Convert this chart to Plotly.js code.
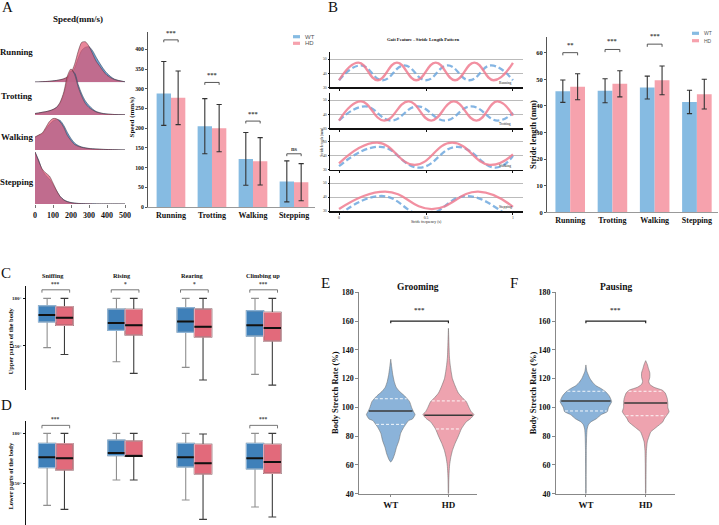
<!DOCTYPE html>
<html>
<head>
<meta charset="utf-8">
<script src="https://cdn.plot.ly/plotly-3.0.1.min.js"></script>
<style>html,body{margin:0;padding:0;background:#fff}#fig{width:719px;height:525px}</style>
</head>
<body>
<div id="fig"></div>
<script>
// ---------------- data ----------------
const gaits = ['Running', 'Trotting', 'Walking', 'Stepping'];
const postures = ['Sniffing', 'Rising', 'Rearing', 'Climbing up'];
const groups = ['WT', 'HD'];

// A: speed distributions (relative density) sampled along speed, mm/s
const speedGrid = [0,20,40,60,80,100,120,140,160,180,200,220,240,260,280,300,320,340,360,380,400,440,500];
const densRunningWT  = [0.3,0.4,0.6,0.8,1.0,1.4,1.8,2.4,3.2,4.8,8,14,24,32,35,35.5,31.5,25,19,13.5,9,3.3,0.5];
const densRunningHD  = [0.3,0.4,0.6,0.8,1.0,1.4,1.9,2.6,3.6,5.5,9.5,18,31,40,40.5,36,28.5,21,16,11,7,2.8,0.4];
const densTrottingWT = [1.5,2,2.7,3.3,4.2,5.5,7.7,12,21,35,44,42,30.5,21,14,9.5,6,3.5,2.3,1.5,1,0.5,0.2];
const densTrottingHD = [1.5,2,2.7,3.3,4.2,5.5,7.7,13,23,39,46,40.5,28,18.5,11.5,7.5,5,3,2,1.3,0.9,0.5,0.2];
const densWalkingWT  = [12.5,14.5,16,21,25.5,29,30.5,29.5,24.5,17.5,11.5,7,4.5,3,2.2,1.6,1.2,1,0.8,0.6,0.5,0.3,0.1];
const densWalkingHD  = [13,15,17,22.5,28.5,31.5,31.2,28,22.5,14.5,9.5,5.5,3.7,2.6,1.9,1.4,1.1,0.9,0.7,0.6,0.5,0.3,0.1];
const densSteppingWT = [52,44,34,28.5,25,19.5,13,7.5,4.2,2.5,1.5,0.9,0.6,0.4,0.3,0.2,0.15,0.1,0.1,0.1,0.1,0.1,0.05];
const densSteppingHD = [52,43,35,31,28,21,13.5,7.5,4,2.2,1.3,0.8,0.5,0.3,0.2,0.15,0.1,0.1,0.1,0.1,0.1,0.1,0.05];

// A: mean speed ± SD
const speedMeanWT = [288, 205, 122, 65];
const speedSdWT   = [81, 70, 67, 52];
const speedMeanHD = [277, 200, 116, 63];
const speedSdHD   = [68, 60, 60, 47];
const speedSig    = ['***', '***', '***', 'ns'];
const speedSigLevel = [424, 316, 218, 135];

// B: stride length pattern (turning points of each cycle), mm
const runHDx  = [0,0.111,0.222,0.333,0.444,0.556,0.667,0.778,0.889,1.0];
const runHDy  = [35,47.5,35,47.5,35,47.5,35,47.5,35,47.3];
const runWTx  = [0,0.125,0.25,0.375,0.5,0.625,0.75,0.875,1.0];
const runWTy  = [35,45.5,35,45.5,35,45.5,35,45.5,35];
const trotHDx = [0,0.125,0.26,0.40,0.53,0.66,0.79,0.91,1.0];
const trotHDy = [35.5,49,35.5,49,35.5,49,35.5,49,39];
const trotWTx = [0,0.15,0.30,0.45,0.61,0.76,0.91,1.0];
const trotWTy = [35.5,45.5,35.5,45.5,35.5,45.5,35.5,41];
const walkHDx = [0,0.22,0.435,0.65,0.865,1.0];
const walkHDy = [34.5,49.5,33.5,49.5,33.5,41];
const walkWTx = [0,0.236,0.46,0.68,0.9,1.0];
const walkWTy = [32.5,46.5,31.5,46.5,31.5,40];
const stepHDx = [0,0.265,0.533,0.80,1.0];
const stepHDy = [31.4,43.9,31.4,43.9,33];
const stepWTx = [0,0.245,0.49,0.734,0.98,1.0];
const stepWTy = [27,40.7,27,40.7,27,27.1];

// B: stride length mean ± SD, mm
const strideMeanWT = [45.5, 45.7, 46.9, 41.5];
const strideSdWT   = [4.2, 4.5, 4.3, 4.4];
const strideMeanHD = [47.2, 48.3, 49.6, 44.4];
const strideSdHD   = [4.9, 4.9, 5.4, 5.6];
const strideSig    = ['**', '***', '***', ''];
const strideSigLevel = [60, 61.2, 63.2, 0];

// C: upper body angle (deg) five-number summaries per posture
const upperWTlo  = [148.8, 139.9, 136.3, 131.9];
const upperWTq1  = [165.0, 159.7, 158.5, 156.1];
const upperWTmed = [169.4, 164.4, 165.4, 162.9];
const upperWTq3  = [175.3, 173.2, 174.1, 172.2];
const upperWThi  = [180, 180, 180, 180];
const upperHDlo  = [144.5, 132.5, 128.3, 125.1];
const upperHDq1  = [162.9, 156.8, 155.5, 153.0];
const upperHDmed = [167.7, 162.9, 162.0, 161.2];
const upperHDq3  = [174.7, 173.0, 173.2, 171.1];
const upperHDhi  = [180, 180, 180, 180];
const upperSig   = ['***', '*', '*', '***'];

// D: lower body angle (deg)
const lowerWTlo  = [136.8, 152.0, 140.0, 135.8];
const lowerWTq1  = [159.4, 166.6, 159.8, 158.6];
const lowerWTmed = [165.6, 168.2, 165.6, 165.0];
const lowerWTq3  = [174.0, 176.0, 174.0, 174.0];
const lowerWThi  = [180, 180, 180, 180];
const lowerHDlo  = [134.4, 152.0, 128.4, 129.8];
const lowerHDq1  = [158.0, 166.2, 155.6, 156.0];
const lowerHDmed = [165.0, 166.4, 162.0, 162.8];
const lowerHDq3  = [173.8, 175.4, 173.4, 173.4];
const lowerHDhi  = [180, 180, 179.6, 180];
const lowerSig   = ['***', '', '', '***'];

// E/F: body stretch rate (%) distribution outlines (half-width, relative)
const groomWTy = [62,64,67.6,72,77,82,86,90.8,92,95,97,100,104,108,111,114,118,123,128,133.5];
const groomWTw = [0,2,4,5.7,8.3,10,13,18,22,24.5,23,21,19,14,9,5.5,3.5,2,1,0];
const groomHDy = [40,50,55,60,65,70,75,80,85,90,92,95,97,100,104,106,110,115,120,125,130,135,145,155];
const groomHDw = [0.2,0.4,0.7,1.2,2.3,4,6.7,10,13,18,22,25.7,23,20.7,18,15,10,6.7,4,2.7,1.7,1,0.5,0];
const pauseWTy = [40,50,60,70,80,85,88,90,92,95,97,100,104,108,111,113,115,117,120,125,129.5];
const pauseWTw = [0.2,0.25,0.3,0.4,0.7,1.2,2.5,5,10,15,20.7,22,25,22.7,19,15,10,7,4,1,0];
const pauseHDy = [40,50,60,70,76,80,83,86,90,92,95,97,100,103,106,110,112,114,116,118,121,124,127,130,132.5];
const pauseHDw = [0.2,0.3,0.4,0.7,1.5,3.3,5,10,16.7,18,21,22.7,21.5,21.5,21,19,16,8,4,3,4,4,2.7,1.5,0];
const groomMedian = [97.5, 94.5];
const groomQ1 = [88.2, 85];
const groomQ3 = [106, 104.5];
const pauseMedian = [104.4, 103];
const pauseQ1 = [97.5, 94.2];
const pauseQ3 = [111.2, 111.2];

// ---------------- layout helpers ----------------
const W = 719, H = 525;
const SERIF = '"Liberation Serif", "Times New Roman", serif';
const SANS = '"Liberation Sans", Arial, sans-serif';
const xd = (l, r) => [l / W, r / W];
const yd = (t, b) => [1 - b / H, 1 - t / H];
const bold = (size, color) => ({family: SERIF, size: size, color: color || '#111', weight: 'bold'});
const axis = o => Object.assign({showgrid: false, zeroline: false, showline: false, ticks: '',
  showticklabels: false, fixedrange: true}, o);

const BAR_WT = '#86bbe2', BAR_HD = '#f6a2ad';
const BOX_WT = '#3f80b9', BOX_HD = '#e26a7b';
const BOX_WT_EDGE = '#8dbbe3', BOX_HD_EDGE = '#f2a9b3';
const VIO_WT = '#8bb3d9', VIO_HD = '#eea3af';

const traces = [];
const shapes = [];
const annotations = [];

function text(x, y, s, font, extra) {
  annotations.push(Object.assign({xref: 'paper', yref: 'paper', x: x / W, y: 1 - y / H, text: s,
    showarrow: false, xanchor: 'center', yanchor: 'middle', font: font}, extra || {}));
}
function bracket(xref, yref, x0, x1, level, drop, color, width) {
  shapes.push({type: 'path', xref: xref, yref: yref,
    path: `M${x0},${level - drop} L${x0},${level} L${x1},${level} L${x1},${level - drop}`,
    line: {color: color, width: width}});
}

const layout = {
  width: W, height: H, margin: {l: 0, r: 0, t: 0, b: 0},
  paper_bgcolor: '#fff', plot_bgcolor: 'rgba(0,0,0,0)', showlegend: false,
  barmode: 'group', bargap: 0.3, bargroupgap: 0, boxmode: 'overlay',
  font: {family: SERIF, color: '#111'}
};

// ---------------- A: speed ridges ----------------
const ridgeBase = [82.3, 115, 150, 204];
const ridgeWT = [densRunningWT, densTrottingWT, densWalkingWT, densSteppingWT];
const ridgeHD = [densRunningHD, densTrottingHD, densWalkingHD, densSteppingHD];
layout.xaxis = axis({domain: xd(35, 125), range: [0, 500], anchor: 'y4',
  tickvals: [0, 100, 200, 300, 400, 500], showticklabels: true, ticks: 'outside', ticklen: 3,
  tickcolor: '#777', tickfont: bold(8)});
ridgeBase.forEach((b, k) => {
  const name = k === 0 ? 'yaxis' : 'yaxis' + (k + 1);
  const ref = k === 0 ? 'y' : 'y' + (k + 1);
  layout[name] = axis({domain: yd(b - 55, b), range: [0, 55], anchor: 'x'});
  traces.push({type: 'scatter', x: speedGrid, y: ridgeWT[k], xaxis: 'x', yaxis: ref, mode: 'lines',
    line: {color: 'rgba(50,60,80,0.8)', width: 0.7, shape: 'spline', smoothing: 0.8},
    fill: 'tozeroy', fillcolor: 'rgba(90,150,205,0.88)', hoverinfo: 'skip'});
  traces.push({type: 'scatter', x: speedGrid, y: ridgeHD[k], xaxis: 'x', yaxis: ref, mode: 'lines',
    line: {color: 'rgba(70,40,50,0.7)', width: 0.7, shape: 'spline', smoothing: 0.8},
    fill: 'tozeroy', fillcolor: 'rgba(225,88,115,0.72)', hoverinfo: 'skip'});
});
text(78, 19, 'Speed(mm/s)', bold(9));
[51.7, 95.7, 136.7, 181.7].forEach((y, k) => text(16.5, y, gaits[k], bold(8.8)));

// ---------------- A: speed bars ----------------
const gIdx = gaits.map((_, i) => i);
layout.xaxis2 = axis({domain: xd(148, 314.5), range: [-0.56, 3.5], anchor: 'y5',
  tickvals: gIdx, ticktext: gaits, showticklabels: true, tickfont: bold(8),
  showline: true, linecolor: '#999', linewidth: 1});
layout.yaxis5 = axis({domain: yd(32, 207), range: [0, 444], anchor: 'x2',
  tickvals: [0, 50, 100, 150, 200, 250, 300, 350, 400], showticklabels: true, tickfont: bold(5.8),
  ticks: 'outside', ticklen: 2, tickcolor: '#555', showline: true, linecolor: '#555', linewidth: 1});
const errStyle = {type: 'data', visible: true, color: '#333', thickness: 1.1, width: 2.6};
traces.push({type: 'bar', x: gIdx, y: speedMeanWT, name: 'WT', xaxis: 'x2', yaxis: 'y5',
  marker: {color: BAR_WT}, error_y: Object.assign({array: speedSdWT}, errStyle), hoverinfo: 'skip'});
traces.push({type: 'bar', x: gIdx, y: speedMeanHD, name: 'HD', xaxis: 'x2', yaxis: 'y5',
  marker: {color: BAR_HD}, error_y: Object.assign({array: speedSdHD}, errStyle), hoverinfo: 'skip'});
speedSig.forEach((s, i) => {
  bracket('x2', 'y5', i - 0.175, i + 0.175, speedSigLevel[i], 6, '#444', 0.9);
  annotations.push({xref: 'x2', yref: 'y5', x: i, y: speedSigLevel[i], text: s, showarrow: false,
    yanchor: 'bottom', yshift: s === 'ns' ? 0 : 2, font: {family: SERIF, size: 6.5, color: '#444', weight: 'bold'}});
});
text(131.5, 117, 'Speed (mm/s)', bold(7), {textangle: -90});

// ---------------- B: stride length pattern ----------------
const rowBox = [[52, 87.3], [93, 128.3], [135, 169.7], [176, 211]];
const cycles = [[runWTx, runWTy, runHDx, runHDy], [trotWTx, trotWTy, trotHDx, trotHDy],
                [walkWTx, walkWTy, walkHDx, walkHDy], [stepWTx, stepWTy, stepHDx, stepHDy]];
rowBox.forEach((r, k) => {
  const xn = 3 + k, yn = 6 + k;
  layout['xaxis' + xn] = axis({domain: xd(330, 522.7), range: [-0.052, 1.056], anchor: 'y' + yn,
    tickvals: [0, 0.5, 1], ticktext: ['0', '0.5', '1'], showticklabels: k === 3,
    tickfont: {family: SERIF, size: 3.8, color: '#333'}, ticks: 'outside', ticklen: 2, tickcolor: '#111',
    showline: true, linecolor: '#111', linewidth: 1.5});
  layout['yaxis' + yn] = axis({domain: yd(r[0], r[1]), range: [30, 55], anchor: 'x' + xn,
    tickvals: [30, 40, 50], showticklabels: true, tickfont: {family: SERIF, size: 3.8, color: '#333'},
    ticks: 'outside', ticklen: 1.5, tickcolor: '#111', showline: true, linecolor: '#111', linewidth: 1,
    showgrid: true, gridcolor: '#b4b4b4', gridwidth: 0.9});
  const c = cycles[k];
  traces.push({type: 'scatter', mode: 'lines', x: c[0], y: c[1], xaxis: 'x' + xn, yaxis: 'y' + yn,
    line: {color: 'rgba(110,168,222,0.85)', width: 2.3, dash: '6px,3px', shape: 'spline', smoothing: 1.3},
    hoverinfo: 'skip'});
  traces.push({type: 'scatter', mode: 'lines', x: c[2], y: c[3], xaxis: 'x' + xn, yaxis: 'y' + yn,
    line: {color: 'rgba(240,125,145,0.85)', width: 2.3, shape: 'spline', smoothing: 1.3},
    hoverinfo: 'skip'});
  text(505, r[1] - 4, gaits[k], {family: SERIF, size: 3.6, color: '#222'});
});
text(423, 40, 'Gait Feature - Stride Length Pattern', bold(4.6));
text(426.7, 221.7, 'Stride frequency (s)', {family: SERIF, size: 3.8, color: '#222'});
text(321.7, 142, 'Stride length (mm)', {family: SERIF, size: 3.8, color: '#222'}, {textangle: -90});

// ---------------- B: stride length bars ----------------
layout.xaxis7 = axis({domain: xd(547, 718), range: [-0.55, 3.5], anchor: 'y10',
  tickvals: gIdx, ticktext: gaits, showticklabels: true, tickfont: bold(8),
  showline: true, linecolor: '#999', linewidth: 1});
layout.yaxis10 = axis({domain: yd(36.7, 212.3), range: [0, 66], anchor: 'x7',
  tickvals: [0, 10, 20, 30, 40, 50, 60], showticklabels: true, tickfont: bold(6.5),
  ticks: 'outside', ticklen: 2, tickcolor: '#555', showline: true, linecolor: '#555', linewidth: 1});
traces.push({type: 'bar', x: gIdx, y: strideMeanWT, name: 'WT', xaxis: 'x7', yaxis: 'y10',
  marker: {color: BAR_WT}, error_y: Object.assign({array: strideSdWT}, errStyle), hoverinfo: 'skip'});
traces.push({type: 'bar', x: gIdx, y: strideMeanHD, name: 'HD', xaxis: 'x7', yaxis: 'y10',
  marker: {color: BAR_HD}, error_y: Object.assign({array: strideSdHD}, errStyle), hoverinfo: 'skip'});
strideSig.forEach((s, i) => {
  if (!s) return;
  bracket('x7', 'y10', i - 0.175, i + 0.175, strideSigLevel[i], 1, '#444', 0.9);
  annotations.push({xref: 'x7', yref: 'y10', x: i, y: strideSigLevel[i], text: s, showarrow: false,
    yanchor: 'bottom', yshift: 3, font: {family: SERIF, size: 6.5, color: '#444', weight: 'bold'}});
});
text(533, 135, 'Stride length (mm)', bold(8.5), {textangle: -90});

// legends for the two bar panels
function legend(x, y1, y2, size) {
  shapes.push({type: 'rect', xref: 'paper', yref: 'paper', x0: x / W, x1: (x + 7) / W,
    y0: 1 - (y1 + 1.6) / H, y1: 1 - (y1 - 1.6) / H, fillcolor: BAR_WT, line: {width: 0}});
  shapes.push({type: 'rect', xref: 'paper', yref: 'paper', x0: x / W, x1: (x + 7) / W,
    y0: 1 - (y2 + 1.6) / H, y1: 1 - (y2 - 1.6) / H, fillcolor: BAR_HD, line: {width: 0}});
  text(x + 10, y1, groups[0], {family: SANS, size: size, color: '#555'}, {xanchor: 'left'});
  text(x + 10, y2, groups[1], {family: SANS, size: size, color: '#555'}, {xanchor: 'left'});
}
legend(293, 36.7, 43.3, 6);
legend(692, 33.3, 40.7, 5);

// ---------------- C / D: body angle boxes ----------------
const pIdx = postures.map((_, i) => i);
function boxPanel(xn, yn, dom, rng, wt, hd, sig, sigLevel) {
  layout['xaxis' + xn] = axis({domain: xd(26, 290), range: [-0.43, 3.38], anchor: 'y' + yn});
  layout['yaxis' + yn] = axis({domain: dom, range: rng, anchor: 'x' + xn,
    tickvals: [150, 180], ticktext: ['150°', '180°'], showticklabels: true,
    tickfont: {family: SERIF, size: 5, color: '#222', weight: 'bold'},
    ticks: 'outside', ticklen: 2, tickcolor: '#111', showline: true, linecolor: '#111', linewidth: 1.5});
  [[wt, -0.125, BOX_WT, '#8f8f8f', BOX_WT_EDGE], [hd, 0.125, BOX_HD, '#3c3c3c', BOX_HD_EDGE]]
    .forEach(([s, off, fill, lc, edge]) => {
      const xs = pIdx.map(i => i + off);
      traces.push({type: 'box', x: xs, lowerfence: s[0], q1: s[1], median: s[2], q3: s[3], upperfence: s[4],
        width: 0.25, whiskerwidth: 0.45, fillcolor: fill, line: {color: lc, width: 1.1},
        xaxis: 'x' + xn, yaxis: 'y' + yn, boxpoints: false, hoverinfo: 'skip'});
      // light box edge, then the median bar on top
      const ex = [], ey = [], mx = [], my = [];
      xs.forEach((x, i) => {
        ex.push(x - 0.125, x + 0.125, x + 0.125, x - 0.125, x - 0.125, null);
        ey.push(s[1][i], s[1][i], s[3][i], s[3][i], s[1][i], null);
        mx.push(x - 0.125, x + 0.125, null); my.push(s[2][i], s[2][i], null);
      });
      traces.push({type: 'scatter', mode: 'lines', x: ex, y: ey, xaxis: 'x' + xn, yaxis: 'y' + yn,
        line: {color: edge, width: 1}, hoverinfo: 'skip'});
      traces.push({type: 'scatter', mode: 'lines', x: mx, y: my, xaxis: 'x' + xn, yaxis: 'y' + yn,
        line: {color: '#111', width: 2}, hoverinfo: 'skip'});
    });
  sig.forEach((s, i) => {
    if (!s) return;
    bracket('x' + xn, 'y' + yn, i - 0.2, i + 0.2, sigLevel, 1.8, '#555', 0.8);
    annotations.push({xref: 'x' + xn, yref: 'y' + yn, x: i, y: sigLevel, text: s, showarrow: false,
      yanchor: 'bottom', yshift: 1, font: {family: SERIF, size: 5.5, color: '#444', weight: 'bold'}});
  });
}
boxPanel(8, 11, yd(285.7, 390), [122, 188],
  [upperWTlo, upperWTq1, upperWTmed, upperWTq3, upperWThi],
  [upperHDlo, upperHDq1, upperHDmed, upperHDq3, upperHDhi], upperSig, 185.4);
boxPanel(9, 12, yd(420.7, 525), [125, 187.6],
  [lowerWTlo, lowerWTq1, lowerWTmed, lowerWTq3, lowerWThi],
  [lowerHDlo, lowerHDq1, lowerHDmed, lowerHDq3, lowerHDhi], lowerSig, 184.8);
[53.3, 121.7, 192.7, 263.3].forEach((x, i) => text(x, 275, postures[i], bold(6.3)));
text(9.5, 341, 'Upper parts of the body', bold(6.5), {textangle: -90});
text(9.5, 476, 'Lower parts of the body', bold(6.5), {textangle: -90});

// ---------------- E / F: body stretch violins ----------------
const VW = 0.0172;
function widthAt(ys, ws, v) {
  for (let i = 0; i < ys.length - 1; i++) {
    if (v >= ys[i] && v <= ys[i + 1]) {
      const t = (v - ys[i]) / (ys[i + 1] - ys[i]);
      return ws[i] + t * (ws[i + 1] - ws[i]);
    }
  }
  return 0;
}
function violinPanel(xn, yn, xdom, xr, prof, med, q1, q3, title, titleX) {
  layout['xaxis' + xn] = axis({domain: xdom, range: xr, anchor: 'y' + yn,
    tickvals: [0, 1], ticktext: groups, showticklabels: true, tickfont: bold(9),
    ticks: 'outside', ticklen: 2, tickcolor: '#888', showline: true, linecolor: '#888', linewidth: 1});
  layout['yaxis' + yn] = axis({domain: yd(292.3, 493.7), range: [40, 180], anchor: 'x' + xn,
    dtick: 20, showticklabels: true, tickfont: bold(8), ticks: 'outside', ticklen: 3,
    tickcolor: '#888', showline: true, linecolor: '#888', linewidth: 1});
  [[prof[0], prof[1], VIO_WT], [prof[2], prof[3], VIO_HD]].forEach(([ys, ws, col], g) => {
    const px = [], py = [];
    ys.forEach((y, i) => { px.push(g + ws[i] * VW); py.push(y); });
    for (let i = ys.length - 1; i >= 0; i--) { px.push(g - ws[i] * VW); py.push(ys[i]); }
    traces.push({type: 'scatter', mode: 'lines', x: px, y: py, fill: 'toself', fillcolor: col,
      line: {color: 'rgba(110,110,110,0.8)', width: 0.7, shape: 'spline', smoothing: 0.5},
      xaxis: 'x' + xn, yaxis: 'y' + yn, hoverinfo: 'skip'});
    const seg = (v, style) => {
      const hw = widthAt(ys, ws, v) * VW * 0.97;
      traces.push({type: 'scatter', mode: 'lines', x: [g - hw, g + hw], y: [v, v], line: style,
        xaxis: 'x' + xn, yaxis: 'y' + yn, hoverinfo: 'skip'});
    };
    seg(q1[g], {color: 'rgba(255,255,255,0.9)', width: 1, dash: '3px,2px'});
    seg(q3[g], {color: 'rgba(255,255,255,0.9)', width: 1, dash: '3px,2px'});
    seg(med[g], {color: '#3a3a3a', width: 1.5});
  });
  bracket('x' + xn, 'y' + yn, 0, 1, 160, 1.5, '#222', 1.2);
  annotations.push({xref: 'x' + xn, yref: 'y' + yn, x: 0.5, y: 160, text: '***', showarrow: false,
    yanchor: 'bottom', yshift: 5, font: {family: SERIF, size: 7, color: '#444', weight: 'bold'}});
  text(titleX, 287.3, title, bold(9.5));
}
violinPanel(10, 13, xd(359.3, 476.7), [-0.545, 1.49], [groomWTy, groomWTw, groomHDy, groomHDw],
  groomMedian, groomQ1, groomQ3, 'Grooming', 418.3);
violinPanel(11, 14, xd(556, 675), [-0.5, 1.49], [pauseWTy, pauseWTw, pauseHDy, pauseHDw],
  pauseMedian, pauseQ1, pauseQ3, 'Pausing', 616);
text(335, 393, 'Body Stretch Rate (%)', bold(8.5), {textangle: -90});
text(533.3, 393, 'Body Stretch Rate (%)', bold(8.5), {textangle: -90});

// ---------------- panel letters ----------------
const letterFont = {family: SERIF, size: 15, color: '#111'};
text(7, 7, 'A', letterFont);
text(333, 7, 'B', letterFont);
text(6, 273, 'C', letterFont);
text(6, 405, 'D', letterFont);
text(325, 283, 'E', letterFont);
text(514, 283, 'F', letterFont);

layout.shapes = shapes;
layout.annotations = annotations;
Plotly.newPlot('fig', traces, layout, {staticPlot: true, displayModeBar: false});
</script>
</body>
</html>
